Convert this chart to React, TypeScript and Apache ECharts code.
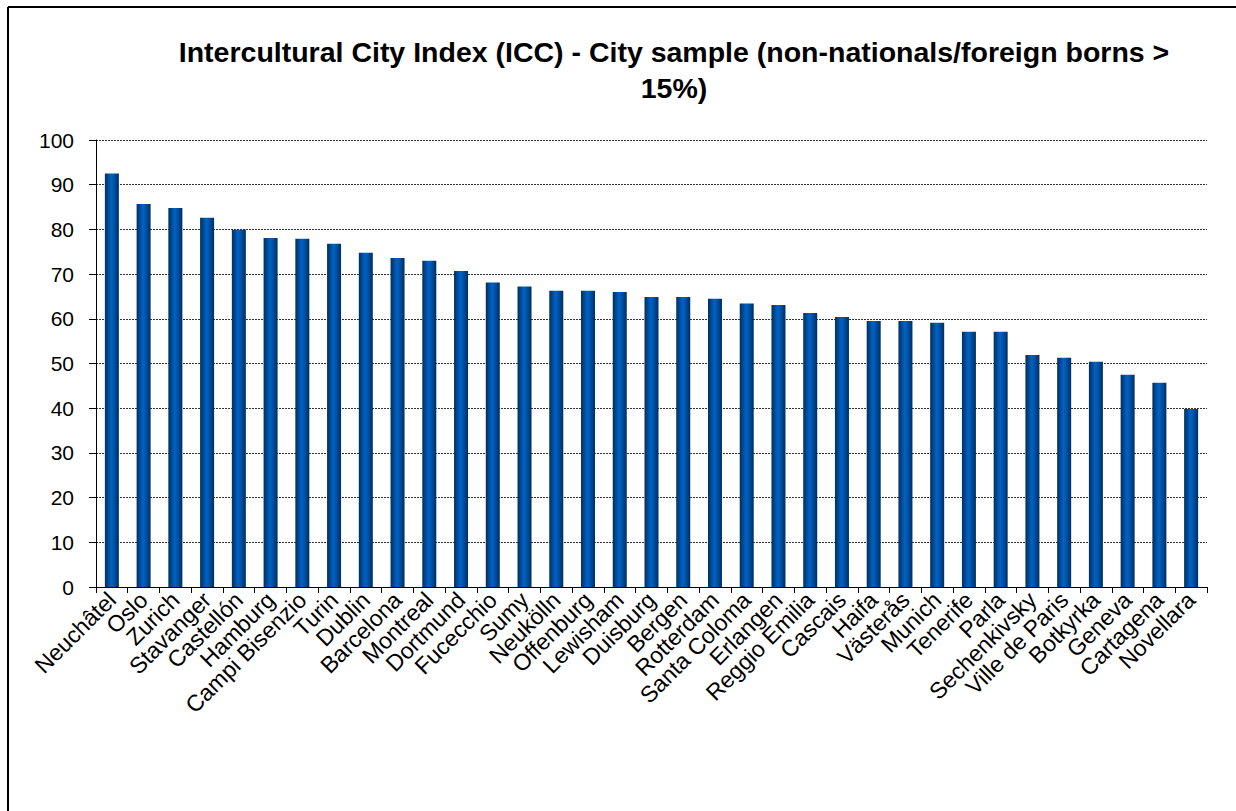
import React, { useEffect, useRef } from "react";
import * as echarts from "echarts";

const titleText = "Intercultural City Index (ICC) - City sample (non-nationals/foreign borns >\n15%)";

const cities = [
  "Neuchâtel", "Oslo", "Zurich", "Stavanger", "Castellón", "Hamburg", "Campi Bisenzio",
  "Turin", "Dublin", "Barcelona", "Montreal", "Dortmund", "Fucecchio", "Sumy", "Neukölln",
  "Offenburg", "Lewisham", "Duisburg", "Bergen", "Rotterdam", "Santa Coloma", "Erlangen",
  "Reggio Emilia", "Cascais", "Haifa", "Västerås", "Munich", "Tenerife", "Parla",
  "Sechenkivsky", "Ville de Paris", "Botkyrka", "Geneva", "Cartagena", "Novellara",
];

const iccValues = [
  92.5, 85.7, 84.8, 82.6, 79.9, 78.1, 77.9,
  76.8, 74.8, 73.6, 73.0, 70.7, 68.1, 67.2, 66.3,
  66.3, 66.0, 64.9, 64.9, 64.5, 63.4, 63.1,
  61.3, 60.4, 59.5, 59.5, 59.1, 57.1, 57.1,
  51.9, 51.3, 50.4, 47.5, 45.7, 39.8,
];

const yMin = 0;
const yMax = 100;
const yStep = 10;

const FONT = "'Liberation Sans', Arial, sans-serif";

export default function App() {
  const ref = useRef<HTMLDivElement>(null);
  useEffect(() => {
    if (!ref.current) return;
    const chart = echarts.init(ref.current, null, { renderer: "svg" });
    chart.setOption({
      animation: false,
      backgroundColor: "#ffffff",
      title: {
        text: titleText,
        left: 669,
        top: 29,
        textAlign: "center",
        textStyle: {
          fontFamily: FONT,
          fontWeight: "bold",
          fontSize: 28.5,
          color: "#000",
          lineHeight: 36,
          align: "center",
        },
      },
      graphic: [
        {
          type: "line",
          shape: { x1: 8, y1: 7, x2: 1240, y2: 7 },
          style: { stroke: "#000", lineWidth: 2 },
        },
        {
          type: "line",
          shape: { x1: 8, y1: 7, x2: 8, y2: 820 },
          style: { stroke: "#000", lineWidth: 2 },
        },
      ],
      grid: { left: 96, right: 29, top: 140, bottom: 224, containLabel: false },
      xAxis: {
        type: "category",
        data: cities,
        axisLine: { show: true, lineStyle: { color: "#000", width: 1 } },
        axisTick: { show: true, alignWithLabel: false, length: 6, lineStyle: { color: "#000" } },
        axisLabel: {
          rotate: 45,
          interval: 0,
          margin: 9,
          fontFamily: FONT,
          fontSize: 23,
          color: "#000",
        },
      },
      yAxis: {
        type: "value",
        min: yMin,
        max: yMax,
        interval: yStep,
        axisLine: { show: true, lineStyle: { color: "#000", width: 1 } },
        axisTick: { show: true, length: 7, lineStyle: { color: "#000" } },
        axisLabel: { margin: 22, fontFamily: FONT, fontSize: 21, color: "#000" },
        splitLine: { show: true, lineStyle: { color: "#333", type: [2, 1], width: 1 } },
      },
      series: [
        {
          type: "bar",
          data: iccValues,
          barWidth: 14,
          itemStyle: {
            color: new echarts.graphic.LinearGradient(0, 0, 1, 0, [
              { offset: 0, color: "#002f5e" },
              { offset: 0.45, color: "#0062c6" },
              { offset: 0.6, color: "#0057b0" },
              { offset: 1, color: "#002f5e" },
            ]),
          },
        },
      ],
    });
    return () => chart.dispose();
  }, []);
  return (
    <div
      ref={ref}
      style={{ position: "fixed", left: 0, top: 0, width: 1236, height: 811 }}
    />
  );
}
